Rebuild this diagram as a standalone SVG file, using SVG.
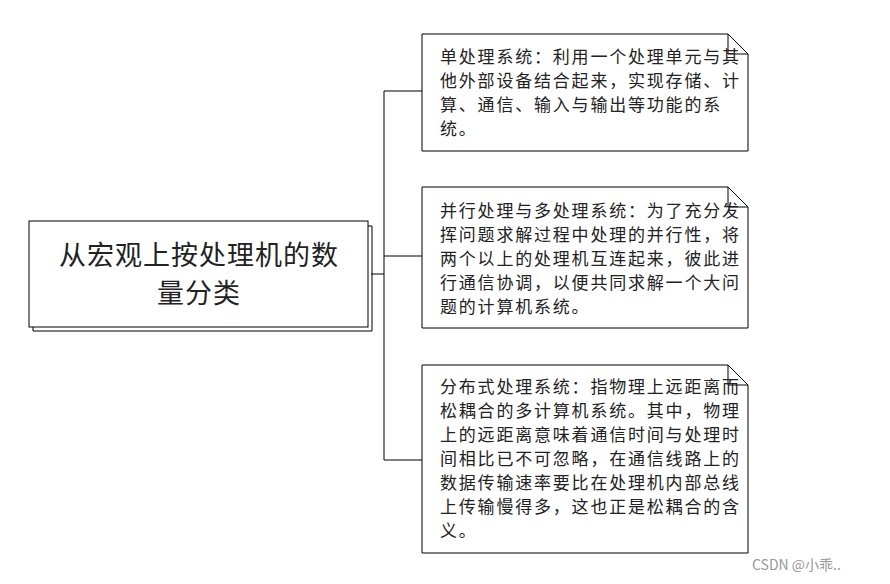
<svg xmlns="http://www.w3.org/2000/svg" width="890" height="584" viewBox="0 0 890 584">
<style>
.n{fill:#fff;stroke:#000;stroke-width:1}
.t{font-family:"Noto Sans CJK SC",sans-serif;font-size:17px;letter-spacing:1.8px;fill:#222}
.c{fill:none;stroke:#000;stroke-width:1}
</style>
<rect width="890" height="584" fill="#fff"/>
<g id="connectors">
<path class="c" d="M371 274H384M384 91V460M384 91H422M384 256H422M384 460H422"/>
</g>
<g id="root">
<path class="c" d="M368 226H372V331H33V327" />
<rect class="n" x="29" y="221" width="339" height="106"/>
<text font-family="Noto Sans CJK SC,sans-serif" font-size="27" letter-spacing="1" fill="#222" text-anchor="middle"><tspan x="199" y="265">从宏观上按处理机的数</tspan><tspan x="199" y="303">量分类</tspan></text>
</g>
<g id="note1">
<path class="n" d="M422 34H728L748 54V151H422Z"/><path class="c" d="M728 34V54H748"/>
<text class="t"><tspan x="440" y="63">单处理系统：利用一个处理单元与其</tspan><tspan x="440" y="87">他外部设备结合起来，实现存储、计</tspan><tspan x="440" y="111">算、通信、输入与输出等功能的系</tspan><tspan x="440" y="135">统。</tspan></text>
</g>
<g id="note2">
<path class="n" d="M422 187H728L748 207V328H422Z"/><path class="c" d="M728 187V207H748"/>
<text class="t"><tspan x="440" y="217">并行处理与多处理系统：为了充分发</tspan><tspan x="440" y="241">挥问题求解过程中处理的并行性，将</tspan><tspan x="440" y="265">两个以上的处理机互连起来，彼此进</tspan><tspan x="440" y="289">行通信协调，以便共同求解一个大问</tspan><tspan x="440" y="313">题的计算机系统。</tspan></text>
</g>
<g id="note3">
<path class="n" d="M422 365H728L748 385V553H422Z"/><path class="c" d="M728 365V385H748"/>
<text class="t"><tspan x="440" y="393">分布式处理系统：指物理上远距离而</tspan><tspan x="440" y="417">松耦合的多计算机系统。其中，物理</tspan><tspan x="440" y="441">上的远距离意味着通信时间与处理时</tspan><tspan x="440" y="465">间相比已不可忽略，在通信线路上的</tspan><tspan x="440" y="489">数据传输速率要比在处理机内部总线</tspan><tspan x="440" y="513">上传输慢得多，这也正是松耦合的含</tspan><tspan x="440" y="537">义。</tspan></text>
</g>
<text x="752" y="570" font-family="Noto Sans CJK SC,sans-serif" font-size="14" fill="#999">CSDN @小乖..</text>
</svg>
